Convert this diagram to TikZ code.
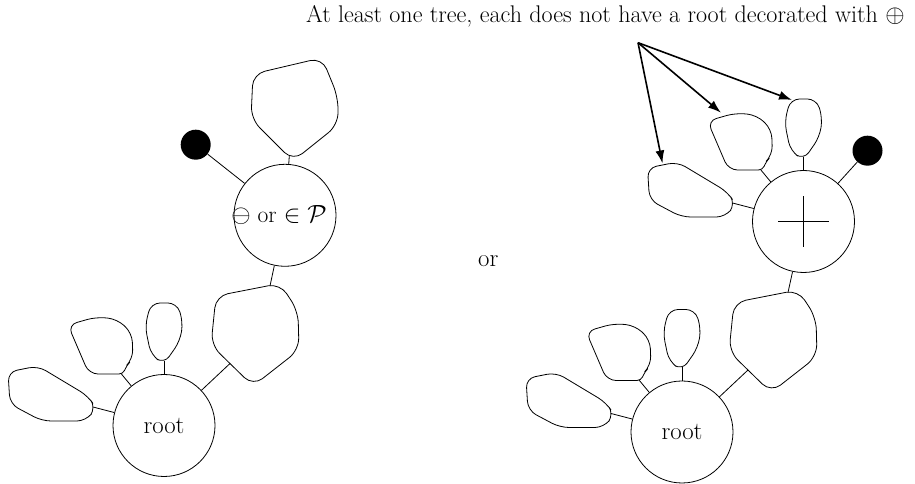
\documentclass[tikz,border=0pt]{standalone}
\usepackage{xcolor}
\usepackage{tikz}
\usetikzlibrary{arrows.meta}
\definecolor{treeline}{gray}{0}
\definecolor{leafdot}{gray}{0}

\tikzset{
  vertex/.style={circle,draw=treeline,line width=0.8pt,minimum size=102pt,
    inner sep=0pt,font=\fontsize{24.8}{30}\selectfont},
  leaf/.style={circle,fill=leafdot,minimum size=30pt,inner sep=0pt},
  blob/.style={draw=treeline,line width=0.8pt,rounded corners=9pt},
  bigblob/.style={blob,rounded corners=12pt},
  edge/.style={draw=treeline,line width=0.8pt},
  pointer/.style={draw=treeline,line width=1.6pt,
    -{Latex[length=13pt,width=9pt]}}
}

\begin{document}
\begin{tikzpicture}[x=1pt,y=1pt]
  \useasboundingbox (0,0) rectangle (915,484);
  \fill[white] (0,0) rectangle (915,484);

  \node[anchor=base west,inner sep=0pt,font=\fontsize{24.1}{29}\selectfont] (note)
    at (306,461.5) {At least one tree, each does not have a root decorated with $\oplus$};

  % left tree
  \node[vertex] (rootL) at (164,58.5) {root};
  \node[vertex,label={[font=\fontsize{23.5}{28}\selectfont,xshift=-6pt]center:$\ominus$ or $\in\mathcal{P}$}]
    (topL) at (285,268.7) {};
  \node[leaf] (dotL) at (195.7,339.3) {};
  \draw[edge] (dotL) -- (topL);

  \node[anchor=base,font=\fontsize{24.8}{30}\selectfont] (or) at (488.3,217.3) {or};

  % right tree
  \node[vertex] (rootR) at (682,52) {root};
  \node[vertex] (plusR) at (803.5,262.5) {};
  \draw[edge] ([xshift=-25.5pt]plusR.center) -- ([xshift=25.5pt]plusR.center);
  \draw[edge] ([yshift=-25.5pt]plusR.center) -- ([yshift=25.5pt]plusR.center);
  \node[leaf] (dotR) at (867.5,333.3) {};
  \draw[edge] (dotR) -- (plusR);

  % three small trees round a vertex
  \foreach \v in {rootL,rootR,plusR} {
    \begin{scope}[shift={(\v.center)}]
      \draw[blob] (-156,53.5) -- (-126,59.5) -- (-76,29.5) -- (-68,17.5)
        -- (-78,4.5) -- (-122,4.5) -- (-154,21.5) -- cycle;
      \draw[blob] (-96,100.5) -- (-68,108.5) -- (-47,106.5) -- (-32,92.5)
        -- (-31,66.5) [rounded corners=4pt] -- (-37,60.5) -- (-41,51.5)
        [rounded corners=9pt] -- (-75,51.5) -- cycle;
      \draw[blob] (-13,122.5) -- (13,122.5) -- (19,103.5) -- (16,84.5)
        -- (0,61.5) -- (-13,70.5) -- (-19,99.5) -- cycle;
      \coordinate (\v-e) at (-71,18.5);
      \coordinate (\v-c) at (-43,52);
      \coordinate (\v-d) at (0,64.6);
    \end{scope}
    \draw[edge] (\v-e) -- (\v);
    \draw[edge] (\v-c) -- (\v);
    \draw[edge] (\v-d) -- (\v);
  }

  % big tree between root and upper vertex
  \foreach \v/\w in {rootL/topL,rootR/plusR} {
    \begin{scope}[shift={(\v.center)}]
      \draw[bigblob] (52,129.5) -- (116,142) -- (134,114.5) -- (135,75.5)
        -- (89,39.5) -- (47,80.5) -- cycle;
      \coordinate (\v-b) at (66,62);
      \coordinate (\v-bt) at (106,139.5);
    \end{scope}
    \draw[edge] (\v-b) -- (\v);
    \draw[edge] (\v-bt) -- (\w);
  }

  % tree above the left upper vertex
  \begin{scope}[shift={(topL.center)}]
    \draw[bigblob] (-32,141.3) -- (37,157.5) -- (53,118.3) -- (53,90.3)
      -- (8,54.3) -- (-34,96.3) -- cycle;
    \coordinate (topL-a) at (4.3,59.3);
  \end{scope}
  \draw[edge] (topL-a) -- (topL);

  % pointers
  \coordinate (fork) at (638,441.3);
  \coordinate (tipE) at (662.5,320.5);
  \coordinate (tipC) at (721,371.3);
  \coordinate (tipD) at (792,384);
  \foreach \t in {tipE,tipC,tipD}
    \draw[pointer] (fork) -- (\t);
\end{tikzpicture}
\end{document}
